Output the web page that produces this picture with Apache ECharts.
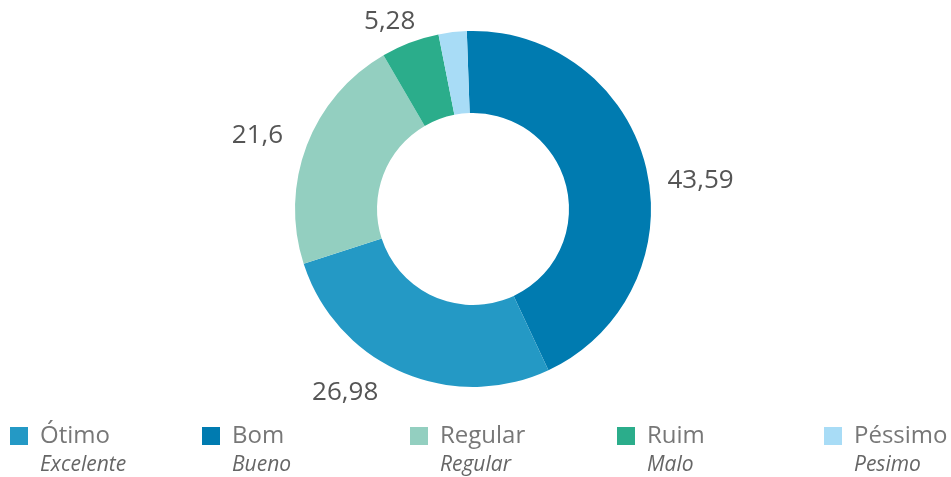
<!DOCTYPE html>
<html lang="pt">
<head>
    <meta charset="UTF-8">
    <title>pizza</title>
    <script src="https://cdn.jsdelivr.net/npm/echarts@6/dist/echarts.min.js"></script>
    <style>
        body { margin: 0; background: #fff; }
    </style>
</head>
<body>
    <div id="main" style="width:951px;height:477px"></div>
    <script>
        // ordem das fatias (sentido horário a partir do topo)
        var nomes = ['Bom', 'Ótimo', 'Regular', 'Ruim', 'Péssimo'];
        var valores = [43.59, 26.98, 21.6, 5.28, 2.55];
        var cores = ['#007bb0', '#2499c5', '#93cfc0', '#2bad8b', '#a8dcf6'];
        // legenda
        var legendaNomes = ['Ótimo', 'Bom', 'Regular', 'Ruim', 'Péssimo'];
        var traducao = { 'Ótimo': 'Excelente', 'Bom': 'Bueno', 'Regular': 'Regular', 'Ruim': 'Malo', 'Péssimo': 'Pesimo' };
        var legendaX = [10, 202, 410, 617, 824];
        // pequenos ajustes dos rótulos [dx, dy]
        var ajusteRotulo = [[-5, 18], [-10, 0], [2, -2], [18, 0], [0, 0]];

        var main = document.getElementById('main');
        var myChart = echarts.init(main);

        var dados = [];
        for (var i = 0; i < nomes.length; i++) {
            dados.push({
                name: nomes[i],
                value: valores[i],
                itemStyle: { color: cores[i] },
                label: { show: nomes[i] !== 'Péssimo' }
            });
        }

        var legendas = [];
        for (var j = 0; j < legendaNomes.length; j++) {
            legendas.push({
                data: [legendaNomes[j]],
                left: legendaX[j],
                top: 397,
                padding: 0,
                icon: 'rect',
                itemWidth: 18,
                itemHeight: 18,
                selectedMode: false,
                formatter: function (n) {
                    return '{c|}\n{a|' + n + '}\n{b|' + traducao[n] + '}';
                },
                textStyle: {
                    rich: {
                        c: { height: 29, fontSize: 20 },
                        a: { height: 29, fontSize: 24, color: '#777', fontFamily: 'Open Sans', padding: [0, 0, 0, 7] },
                        b: { height: 29, fontSize: 21, color: '#666', fontStyle: 'italic', fontFamily: 'Open Sans', padding: [0, 0, 0, 7] }
                    }
                }
            });
        }

        var option = {
            animation: false,
            legend: legendas,
            series: [
                {
                    type: 'pie',
                    radius: [96, 178],
                    center: [473, 209],
                    startAngle: 92,
                    clockwise: true,
                    data: dados,
                    label: {
                        show: true,
                        position: 'outside',
                        formatter: function (p) { return String(p.value).replace('.', ','); },
                        fontSize: 26,
                        color: '#555',
                        fontFamily: 'Open Sans'
                    },
                    labelLine: { show: false, length: 22, length2: 0 },
                    labelLayout: function (p) {
                        var a = ajusteRotulo[p.dataIndex];
                        return { dx: a[0], dy: a[1] };
                    },
                    emphasis: { disabled: true }
                }
            ]
        };
        myChart.setOption(option);
    </script>
</body>
</html>
